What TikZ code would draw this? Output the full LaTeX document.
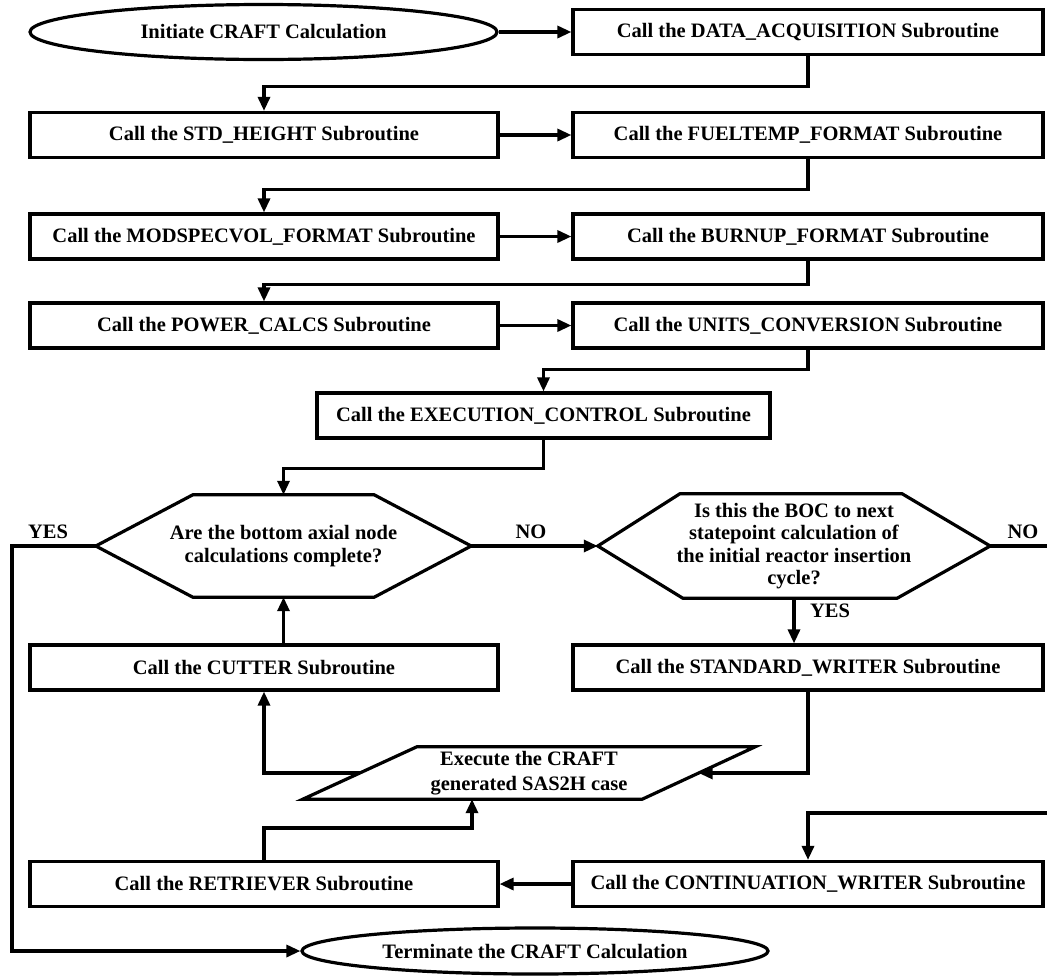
\documentclass[tikz,border=0pt]{standalone}
\usepackage{fontspec}
\setmainfont{Liberation Serif}
\usetikzlibrary{arrows.meta,calc,shapes.geometric}
\begin{document}
\begin{tikzpicture}[x=1pt,y=-1pt,
  every node/.style={font=\fontsize{20.5}{22.3}\selectfont\bfseries},
  lw/.style={line width=3.2pt},
  proc/.style={draw,lw,rectangle,minimum height=45pt,inner sep=0pt},
  lbox/.style={proc,minimum width=468pt},
  rbox/.style={proc,minimum width=470pt},
  termnode/.style={draw,lw,ellipse,inner sep=0pt},
  shapearea/.style={inner sep=0pt,align=center},
  arr/.style={lw,-{Triangle[length=14pt,width=12pt]}},
  conn/.style={lw},
  lab/.style={inner sep=0pt}
]
\useasboundingbox (0,0) rectangle (1047,975);
\fill[white] (0,0) rectangle (1047,975);

% nodes
\node[termnode,minimum width=467pt,minimum height=55pt] (init) at (263.5,32) {Initiate CRAFT Calculation};
\node[rbox] (data) at (808,32) {Call the DATA\_ACQUISITION Subroutine};
\node[lbox] (std) at (264,135) {Call the STD\_HEIGHT Subroutine};
\node[rbox] (fuel) at (808,135) {Call the FUELTEMP\_FORMAT Subroutine};
\node[lbox] (mod) at (264,236.5) {Call the MODSPECVOL\_FORMAT Subroutine};
\node[rbox] (burn) at (808,236.5) {Call the BURNUP\_FORMAT Subroutine};
\node[lbox] (power) at (264,325.5) {Call the POWER\_CALCS Subroutine};
\node[rbox] (units) at (808,325.5) {Call the UNITS\_CONVERSION Subroutine};
\node[proc,minimum width=453pt] (exec) at (543.5,415.5) {Call the EXECUTION\_CONTROL Subroutine};

\node[shapearea,minimum width=375pt,minimum height=102pt] (q1) at (283.5,546) {Are the bottom axial node\\calculations complete?};
\draw[lw] (q1.west) -- ($(q1.north west)+(97,0)$) -- ($(q1.north east)+(-97,0)$) -- (q1.east) -- ($(q1.south east)+(-97,0)$) -- ($(q1.south west)+(97,0)$) -- cycle;

\node[shapearea,minimum width=392pt,minimum height=104pt] (q2) at (794,546) {Is this the BOC to next\\statepoint calculation of\\the initial reactor insertion\\cycle?};
\draw[lw] (q2.west) -- ($(q2.north west)+(82,0)$) -- ($(q2.north east)+(-88,0)$) -- (q2.east) -- ($(q2.south east)+(-93,0)$) -- ($(q2.south west)+(85,0)$) -- cycle;

\node[lbox] (cutter) at (264,667.5) {Call the CUTTER Subroutine};
\node[rbox] (stdw) at (808,667.5) {Call the STANDARD\_WRITER Subroutine};

\node[shapearea,minimum width=452pt,minimum height=52pt] (par) at (529,773) {Execute the CRAFT\\[3pt]generated SAS2H case};
\draw[lw] (par.south west) -- ($(par.north west)+(114,0)$) -- (par.north east) -- ($(par.south east)+(-113,0)$) -- cycle;
\coordinate (parR) at ($(par.east)+(-56.5,0)$);
\coordinate (parL) at ($(par.west)+(57,0)$);
\coordinate (parB) at ($(par.south)+(-57,0)$);

\node[lbox] (retr) at (264,884) {Call the RETRIEVER Subroutine};
\node[rbox] (cont) at (808,884) {Call the CONTINUATION\_WRITER Subroutine};
\node[termnode,minimum width=466pt,minimum height=46pt] (term) at (535,951) {Terminate the CRAFT Calculation};

% labels
\node[lab] (yes1) at (48,532) {YES};
\node[lab] (no1) at (531,532) {NO};
\node[lab] (no2) at (1023,532) {NO};
\node[lab] (yes2) at (830,611) {YES};

% free ends
\coordinate (lft) at (12,951);
\coordinate (noend) at (1047,546);
\coordinate (inR) at (1047,813);

% connectors
\draw[arr] (init.east) -- (data.west);
\draw[arr] (data.south) -- ++(0,30) -| (std.north);
\draw[arr] (std.east) -- (fuel.west);
\draw[arr] (fuel.south) -- ++(0,30) -| (mod.north);
\draw[arr] (mod.east) -- (burn.west);
\draw[arr] (burn.south) -- ++(0,24) -| (power.north);
\draw[arr] (power.east) -- (units.west);
\draw[arr] (units.south) -- ++(0,20) -| (exec.north);
\draw[arr] (exec.south) -- ++(0,29) -| (q1.north);
\draw[arr] (q1.east) -- (q2.west);
\draw[conn] (q2.east) -- (noend);
\draw[arr] (q1.west) -| (lft) -- (term.west);
\draw[arr] (q2.south) -- (q2.south |- stdw.north);
\draw[arr] (cutter.north -| q1.south) -- (q1.south);
\draw[arr] (stdw.south) |- (parR);
\draw[arr] (parL) -| (cutter.south);
\draw[arr] (retr.north) -- ++(0,-32) -| (parB);
\draw[arr] (cont.west) -- (retr.east);
\draw[arr] (inR) -| (cont.north);
\end{tikzpicture}
\end{document}
